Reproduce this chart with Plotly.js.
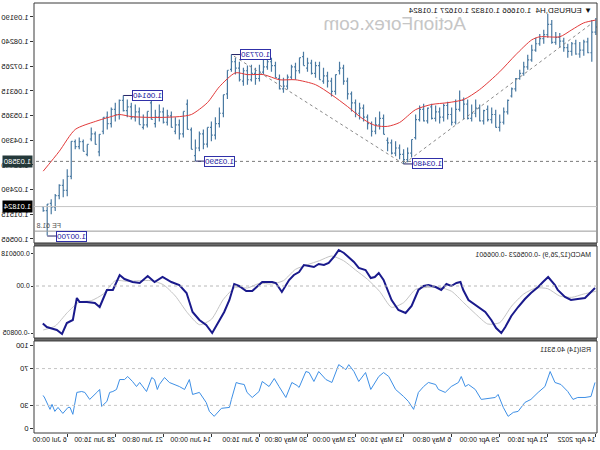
<!DOCTYPE html>
<html><head><meta charset="utf-8">
<script src="https://cdn.plot.ly/plotly-3.0.1.min.js"></script>
<style>html,body{margin:0;padding:0;background:#fff;}#chart{width:600px;height:450px;transform:scaleX(-1);}</style>
</head><body><div id="chart"></div><script>
// ---- price bars (H4, EURUSD), oldest first ----
const open = [1.0880,1.0860,1.0780,1.0822,1.0790,1.0775,1.0815,1.0785,1.0800,1.0825,1.0840,1.0820,1.0890,1.0850,1.0835,1.0815,1.0790,1.0752,1.0725,1.0700,1.0680,1.0640,1.0595,1.0550,1.0510,1.0490,1.0540,1.0520,1.0555,1.0515,1.0565,1.0545,1.0525,1.0580,1.0595,1.0560,1.0510,1.0540,1.0575,1.0530,1.0550,1.0525,1.0565,1.0515,1.0560,1.0520,1.0443,1.0390,1.0365,1.0385,1.0410,1.0390,1.0430,1.0463,1.0525,1.0500,1.0475,1.0505,1.0530,1.0565,1.0545,1.0585,1.0620,1.0670,1.0720,1.0695,1.0630,1.0670,1.0690,1.0675,1.0730,1.0700,1.0740,1.0730,1.0761,1.0710,1.0725,1.0685,1.0650,1.0640,1.0683,1.0730,1.0745,1.0725,1.0705,1.0680,1.0700,1.0675,1.0710,1.0675,1.0720,1.0745,1.0712,1.0617,1.0545,1.0505,1.0460,1.0490,1.0425,1.0465,1.0410,1.0405,1.0482,1.0552,1.0465,1.0500,1.0490,1.0535,1.0510,1.0550,1.0530,1.0521,1.0552,1.0500,1.0501,1.0550,1.0530,1.0570,1.0555,1.0595,1.0540,1.0560,1.0505,1.0529,1.0463,1.0424,1.0465,1.0424,1.0397,1.0435,1.0415,1.0436,1.0300,1.0245,1.0265,1.0225,1.0180,1.0192,1.01666];
const high = [1.0915,1.0907,1.0838,1.0830,1.0822,1.0830,1.0822,1.0815,1.0838,1.0857,1.0861,1.0907,1.0931,1.0869,1.0853,1.0838,1.0811,1.0772,1.0745,1.0714,1.0682,1.0645,1.0598,1.0567,1.0540,1.0559,1.0567,1.0575,1.0559,1.0579,1.0598,1.0579,1.0598,1.0606,1.0633,1.0598,1.0567,1.0590,1.0582,1.0567,1.0575,1.0582,1.0567,1.0582,1.0575,1.0540,1.0443,1.0412,1.0405,1.0424,1.0436,1.0443,1.0451,1.0540,1.0552,1.0529,1.0513,1.0540,1.0579,1.0586,1.0598,1.0629,1.0683,1.0733,1.0745,1.0695,1.0683,1.0706,1.0722,1.0745,1.0745,1.0753,1.0761,1.0784,1.0761,1.0741,1.0733,1.0695,1.0683,1.0695,1.0745,1.0761,1.0768,1.0753,1.0733,1.0722,1.0733,1.0730,1.0722,1.0745,1.0761,1.0773,1.0712,1.0617,1.0567,1.0529,1.0513,1.0490,1.0482,1.0474,1.0443,1.0490,1.0598,1.0552,1.0521,1.0529,1.0552,1.0559,1.0567,1.0579,1.0559,1.0598,1.0552,1.0540,1.0567,1.0579,1.0586,1.0598,1.0614,1.0598,1.0586,1.0567,1.0552,1.0529,1.0463,1.0474,1.0490,1.0424,1.0443,1.0451,1.0443,1.0436,1.0327,1.0289,1.0269,1.0231,1.0211,1.0192,1.01832];
const low = [1.0849,1.0745,1.0778,1.0768,1.0761,1.0772,1.0768,1.0761,1.0784,1.0799,1.0811,1.0815,1.0838,1.0815,1.0807,1.0784,1.0745,1.0714,1.0691,1.0675,1.0629,1.0606,1.0540,1.0501,1.0474,1.0490,1.0505,1.0513,1.0501,1.0513,1.0529,1.0513,1.0521,1.0521,1.0552,1.0501,1.0497,1.0521,1.0513,1.0505,1.0513,1.0521,1.0505,1.0513,1.0513,1.0443,1.0374,1.0355,1.0348,1.0366,1.0378,1.0385,1.0397,1.0463,1.0482,1.0463,1.0455,1.0482,1.0513,1.0521,1.0529,1.0552,1.0598,1.0656,1.0695,1.0617,1.0610,1.0645,1.0660,1.0675,1.0683,1.0695,1.0706,1.0730,1.0699,1.0675,1.0675,1.0637,1.0625,1.0637,1.0683,1.0706,1.0714,1.0695,1.0668,1.0656,1.0668,1.0656,1.0652,1.0668,1.0695,1.0706,1.0600,1.0529,1.0490,1.0443,1.0436,1.0412,1.0405,1.0397,1.0359,1.0405,1.0482,1.0451,1.0443,1.0463,1.0490,1.0497,1.0505,1.0513,1.0490,1.0521,1.0490,1.0482,1.0501,1.0513,1.0521,1.0529,1.0552,1.0521,1.0513,1.0490,1.0482,1.0463,1.0378,1.0424,1.0436,1.0378,1.0397,1.0405,1.0405,1.0289,1.0223,1.0219,1.0211,1.0165,1.0153,1.0070,1.01627];
const close = [1.0860,1.0780,1.0822,1.0790,1.0775,1.0815,1.0785,1.0800,1.0825,1.0840,1.0820,1.0890,1.0850,1.0835,1.0815,1.0790,1.0752,1.0725,1.0700,1.0680,1.0640,1.0612,1.0550,1.0510,1.0490,1.0540,1.0520,1.0560,1.0515,1.0565,1.0545,1.0525,1.0580,1.0595,1.0560,1.0510,1.0540,1.0575,1.0530,1.0550,1.0525,1.0570,1.0515,1.0560,1.0520,1.0450,1.0390,1.0365,1.0385,1.0410,1.0390,1.0430,1.0440,1.0525,1.0500,1.0475,1.0505,1.0530,1.0565,1.0545,1.0585,1.0620,1.0670,1.0720,1.0710,1.0630,1.0670,1.0690,1.0670,1.0730,1.0700,1.0740,1.0720,1.0765,1.0710,1.0725,1.0685,1.0650,1.0640,1.0680,1.0730,1.0745,1.0725,1.0705,1.0680,1.0700,1.0675,1.0710,1.0670,1.0720,1.0745,1.0715,1.0620,1.0545,1.0505,1.0460,1.0490,1.0425,1.0465,1.0410,1.0380,1.0480,1.0580,1.0465,1.0500,1.0475,1.0535,1.0510,1.0550,1.0530,1.0505,1.0585,1.0500,1.0490,1.0550,1.0530,1.0570,1.0555,1.0595,1.0540,1.0560,1.0505,1.0530,1.0475,1.0395,1.0465,1.0445,1.0385,1.0435,1.0415,1.0435,1.0300,1.0245,1.0265,1.0225,1.0180,1.0195,1.0167,1.01824];

// moving average (red), read at bar positions
const maX = [0,3,6,9,14,16,20,24,29,33,37,41,45,49,52,55,58,62,66,70,75,79,83,87,90,94,97,101,104,108,112,116,119,121,125,130,134,138];
const maY = [1.0907,1.0896,1.0869,1.0842,1.0842,1.0830,1.0772,1.0706,1.0637,1.0598,1.0586,1.0579,1.0559,1.0509,1.0494,1.0497,1.0521,1.0571,1.0617,1.0656,1.0675,1.0675,1.0695,1.0695,1.0702,1.0648,1.0586,1.0540,1.0532,1.0529,1.0529,1.0532,1.0540,1.0532,1.0513,1.0482,1.0397,1.0320];

// MACD(12,26,9)
const macdX = [0.2,1.2,2.7,4.5,6.2,7.7,9.5,10.2,11.9,13.2,14.4,16.2,17.7,19.4,21.1,22.6,23.6,24.9,26.1,27.6,29.4,30.6,31.8,33.1,33.8,34.8,36.1,37.3,38.6,40.0,41.8,43.0,44.3,46.0,47.5,49.3,51.0,53.0,54.2,55.2,56.2,57.5,59.2,60.4,61.7,62.9,64.2,65.4,66.7,67.9,69.2,70.4,71.6,72.9,74.1,75.4,76.6,78.4,79.9,80.8,83.3,85.8,87.3,89.1,90.3,91.5,92.8,94.0,95.8,97.3,99.0,100.7,102.2,104.0,106.0,108.2,110.2,111.9,113.9,115.7,117.7,118.9,120.6,122.1,123.9,125.1,127.1,128.9,129.6,130.6,132.1,133.3,134.6,136.3,137.1,138.1];
const macdY = [-0.0003,-0.0009,-0.0018,-0.00195,-0.0021,-0.00165,-0.0006,0.00015,0.00135,0.0006,-0.00015,-0.00105,-0.00195,-0.00315,-0.0045,-0.00615,-0.00705,-0.0063,-0.0051,-0.0039,-0.00315,-0.00255,-0.0021,-0.0006,0.0006,0.00045,0,0.0003,-0.0006,-0.00015,0.00015,0,-0.0006,-0.003,-0.00405,-0.0036,-0.0021,0.0009,0.00195,0.00135,0.0012,0.0024,0.0027,0.0036,0.00435,0.00495,0.0054,0.00435,0.00345,0.00315,0.0033,0.00285,0.003,0.00315,0.0021,0.00165,0.0009,-0.0009,0.00045,0.0006,0.0006,-0.00075,-0.00075,0,0.0003,-0.0021,-0.0039,-0.0051,-0.00705,-0.00585,-0.0051,-0.0039,-0.00105,0.00015,0.0006,0.00135,0.0006,0.0015,0.00045,0.0006,0.00105,0.00165,-0.0006,-0.0006,-0.00315,-0.00255,-0.0024,-0.0024,-0.0018,-0.0051,-0.00555,-0.0072,-0.0066,-0.0063,-0.00615,-0.005623];
const sigX = [0,3,6,9,12,15,18,21,24,27,30,33,36,39,42,45,48,51,54,57,60,63,66,69,72,75,78,81,84,87,90,93,96,99,102,105,108,111,114,117,120,123,126,129,132,135,138];
const sigY = [-0.0008,-0.0012,-0.0017,-0.0015,-0.0004,-0.0003,-0.0012,-0.0030,-0.0055,-0.0057,-0.0042,-0.0025,-0.0008,-0.0002,-0.0002,-0.0005,-0.0025,-0.0032,-0.0008,0.0010,0.0024,0.0038,0.0045,0.0038,0.0032,0.0025,0.0008,0.0003,0.0004,-0.0003,-0.0002,-0.0020,-0.0050,-0.0058,-0.0040,-0.0015,0.0002,0.0008,0.0008,0.0007,0.0008,-0.0012,-0.0022,-0.0024,-0.0040,-0.0060,-0.006601];

// RSI(14)
const rsiX = [0.2,1.2,2.7,4.5,5.7,7.0,8.7,10.2,11.4,12.7,14.4,16.2,17.7,19.4,20.6,21.9,23.1,24.4,25.1,26.9,28.6,30.1,31.8,32.6,33.6,34.3,36.1,37.6,39.3,40.0,41.8,43.0,44.3,45.5,46.8,48.0,49.3,50.0,51.7,53.0,54.2,55.0,56.2,57.5,59.2,60.4,61.7,62.4,64.2,65.9,67.4,69.2,70.4,71.6,72.4,74.1,74.6,75.9,77.4,79.1,80.3,81.6,83.3,84.1,85.8,87.1,87.8,89.1,89.8,91.0,91.5,93.5,95.3,96.5,97.3,99.0,100.7,101.5,102.7,104.0,105.2,106.5,107.7,109.0,109.5,110.2,110.9,112.2,113.9,114.7,115.7,116.9,117.7,118.9,119.7,120.6,121.4,122.1,123.4,123.9,124.6,126.4,127.6,128.4,129.6,130.6,131.3,131.8,133.1,134.3,135.1,135.8,136.3,137.1,137.8,138.1];
const rsiY = [54.9,39.7,38.6,38.6,36.5,45.1,52.7,54.9,66.8,50.5,44.1,36.5,33.2,23.5,22.4,18.1,27.8,41.9,38.6,37.6,36.5,47.3,52.7,50.5,61.4,54.9,50.5,44.1,47.3,52.7,54.9,50.5,44.1,25.7,34.3,39.7,44.1,47.3,61.4,65.7,61.4,56.0,47.3,65.7,56.0,66.8,74.3,68.9,74.3,54.9,58.1,66.8,56.0,65.7,66.8,49.5,51.6,54.9,38.6,50.5,59.2,50.5,56.0,45.1,38.6,44.1,52.7,53.8,54.9,36.5,27.8,26.8,18.1,23.5,33.2,44.1,41.9,58.1,47.3,50.5,52.7,54.9,60.3,52.7,47.3,58.1,60.3,45.1,54.9,50.5,56.0,61.4,58.1,58.1,47.3,45.1,44.1,34.3,28.9,47.3,44.1,36.5,44.1,45.1,44.1,20.3,27.8,27.8,21.3,27.8,23.5,31.1,25.7,33.2,39.7,40.53];

// axis labels
const dateTickBars = [0,12,24,36,48,60,72,84,96,108,120,132];
const dateLabels = ['14 Apr 2022','21 Apr 16:00','29 Apr 00:00','6 May 08:00','13 May 16:00','23 May 00:00','30 May 08:00','6 Jun 16:00','14 Jun 00:00','21 Jun 08:00','28 Jun 16:00','6 Jul 00:00'];
const priceTicks = [1.00565,1.01515,1.02490,1.03440,1.04390,1.05365,1.06315,1.07265,1.08240,1.09190];

// swing labels: [bar, price, text]
const swingLabels = [[118,1.0614,'1.06140'],[91,1.0773,'1.07730'],[100,1.0359,'1.03590'],[48,1.0348,'1.03480'],[137,1.0068,'1.00700']];
const levelBid = 1.01824, levelDotted = 1.03580, levelFE = 1.0087;
const trendA = [1.5,1.0888], trendB = [48,1.0348], trendC = [91,1.0773];

const FONT = 'Liberation Sans, Arial, sans-serif';
const BAR = '#4a7aa2';
const traces = [
  {type:'ohlc', open:open, high:high, low:low, close:close, xaxis:'x', yaxis:'y',
   increasing:{line:{color:BAR,width:1.2}}, decreasing:{line:{color:BAR,width:1.2}}, tickwidth:0.35, hoverinfo:'skip'},
  {type:'scatter', mode:'lines', x:maX, y:maY, xaxis:'x', yaxis:'y', line:{color:'#e23a3a',width:1,shape:'spline',smoothing:0.7}, hoverinfo:'skip'},
  {type:'scatter', mode:'lines', x:sigX, y:sigY, xaxis:'x', yaxis:'y2', line:{color:'#c4c4c4',width:1,shape:'spline',smoothing:0.6}, hoverinfo:'skip'},
  {type:'scatter', mode:'lines', x:macdX, y:macdY, xaxis:'x', yaxis:'y2', line:{color:'#1a1a8c',width:2}, hoverinfo:'skip'},
  {type:'scatter', mode:'lines', x:rsiX, y:rsiY, xaxis:'x', yaxis:'y3', line:{color:'#3d8fe6',width:1}, hoverinfo:'skip'}
];

const D1 = [0.4419,1], D2 = [0.2209,0.4349], D3 = [0,0.214];
const shapes = [];
shapes.push({type:'rect',xref:'paper',yref:'paper',x0:0,x1:1,y0:D2[1],y1:D1[0],fillcolor:'#6a6a6a',line:{width:0}});
shapes.push({type:'rect',xref:'paper',yref:'paper',x0:0,x1:1,y0:D3[1],y1:D2[0],fillcolor:'#6a6a6a',line:{width:0}});
[D1,D2,D3].forEach(d=>shapes.push({type:'rect',xref:'paper',yref:'paper',x0:0,x1:1,y0:d[0],y1:d[1],line:{color:'#3a3a3a',width:1}}));
shapes.push({type:'line',xref:'paper',yref:'y',x0:0,x1:1,y0:levelDotted,y1:levelDotted,line:{color:'#7a7a7a',width:1,dash:'dot'}});
shapes.push({type:'line',xref:'paper',yref:'y',x0:0,x1:1,y0:levelBid,y1:levelBid,line:{color:'#c4c4c4',width:1}});
shapes.push({type:'line',xref:'paper',yref:'y',x0:0,x1:1,y0:levelFE,y1:levelFE,line:{color:'#9a9a9a',width:1}});
shapes.push({type:'line',xref:'x',yref:'y',x0:trendA[0],y0:trendA[1],x1:trendB[0],y1:trendB[1],line:{color:'#8a8a8a',width:1,dash:'dot'}});
shapes.push({type:'line',xref:'x',yref:'y',x0:trendB[0],y0:trendB[1],x1:trendC[0],y1:trendC[1],line:{color:'#8a8a8a',width:1,dash:'dot'}});
shapes.push({type:'line',xref:'paper',yref:'y2',x0:0,x1:1,y0:0,y1:0,line:{color:'#b8b8b8',width:1,dash:'dot'}});
[30,70].forEach(v=>shapes.push({type:'line',xref:'paper',yref:'y3',x0:0,x1:1,y0:v,y1:v,line:{color:'#c4c4c4',width:1,dash:'dot'}}));

const annotations = [];
swingLabels.forEach(s=>{
  const bx = s[0]-2.2;
  shapes.push({type:'line',xref:'x',yref:'y',x0:s[0],x1:bx,y0:s[1],y1:s[1],line:{color:'#222266',width:1}});
  annotations.push({xref:'x',yref:'y',x:bx,y:s[1],text:s[2],showarrow:false,xanchor:'right',yanchor:'middle',
    font:{family:FONT,size:8,color:'#2020a0'},bgcolor:'#ffffff',bordercolor:'#3030a8',borderwidth:1,borderpad:0});
});
annotations.push({xref:'paper',yref:'paper',x:0,y:1,xshift:3,yshift:-1,xanchor:'left',yanchor:'top',showarrow:false,
  text:'▼ EURUSD,H4  1.01666 1.01832 1.01627 1.01824',font:{family:FONT,size:8,color:'#111'}});
annotations.push({xref:'paper',yref:'paper',x:0.36,y:0.952,xanchor:'center',yanchor:'middle',showarrow:false,
  text:'ActionForex.com',font:{family:FONT,size:19,color:'#c6c6c6'}});
annotations.push({xref:'paper',yref:'paper',x:0,y:D2[1],xshift:4,yshift:-3,xanchor:'left',yanchor:'top',showarrow:false,
  text:'MACD(12,26,9) -0.005623 -0.006601',font:{family:FONT,size:7,color:'#222'}});
annotations.push({xref:'paper',yref:'paper',x:0,y:D3[1],xshift:4,yshift:-3,xanchor:'left',yanchor:'top',showarrow:false,
  text:'RSI(14) 40.5311',font:{family:FONT,size:7,color:'#222'}});
annotations.push({xref:'paper',yref:'y',x:1,y:levelFE,xanchor:'right',yanchor:'bottom',showarrow:false,
  text:'FE 61.8',font:{family:FONT,size:7,color:'#555'}});
annotations.push({xref:'paper',yref:'y',x:1,y:levelDotted,xanchor:'left',yanchor:'middle',showarrow:false,xshift:1,
  text:'1.03580',font:{family:FONT,size:7.5,color:'#ffffff'},bgcolor:'#24393a',borderpad:1});
annotations.push({xref:'paper',yref:'y',x:1,y:levelBid,xanchor:'left',yanchor:'middle',showarrow:false,xshift:1,
  text:'1.01824',font:{family:FONT,size:7.5,color:'#ffffff'},bgcolor:'#000000',borderpad:1});

const layout = {
  width:600, height:450, margin:{l:3,r:34,t:3,b:17}, showlegend:false,
  paper_bgcolor:'#ffffff', plot_bgcolor:'#ffffff', font:{family:FONT,size:7.5,color:'#000'},
  xaxis:{range:[-0.3,140.3], anchor:'y3', showgrid:false, zeroline:false, showline:false, rangeslider:{visible:false},
    tickmode:'array', tickvals:dateTickBars, ticktext:dateLabels, ticks:'outside', ticklen:3, tickcolor:'#333',
    tickangle:0, automargin:false, ticklabelposition:'outside right', tickfont:{family:FONT,size:7,color:'#111'}},
  yaxis:{domain:D1, range:[1.0041,1.09732], side:'right', anchor:'x', showgrid:false, zeroline:false, automargin:false,
    tickmode:'array', tickvals:priceTicks, tickformat:'.5f', ticks:'outside', ticklen:3, tickcolor:'#333',
    tickfont:{family:FONT,size:7.5,color:'#111'}},
  yaxis2:{domain:D2, range:[-0.0078,0.0060], side:'right', anchor:'x', showgrid:false, zeroline:false, automargin:false,
    tickmode:'array', tickvals:[-0.00705,0,0.0049], ticktext:['-0.00805','0.00','0.006018'], ticks:'outside', ticklen:2, tickcolor:'#333',
    tickfont:{family:FONT,size:6.8,color:'#111'}},
  yaxis3:{domain:D3, range:[0,100], side:'right', anchor:'x', showgrid:false, zeroline:false, automargin:false,
    tickmode:'array', tickvals:[4.5,30,70,95.5], ticktext:['0','30','70','100'], ticks:'outside', ticklen:3, tickcolor:'#333',
    tickfont:{family:FONT,size:7.5,color:'#111'}},
  shapes:shapes, annotations:annotations
};
Plotly.newPlot('chart', traces, layout, {staticPlot:true, displayModeBar:false});
</script></body></html>
